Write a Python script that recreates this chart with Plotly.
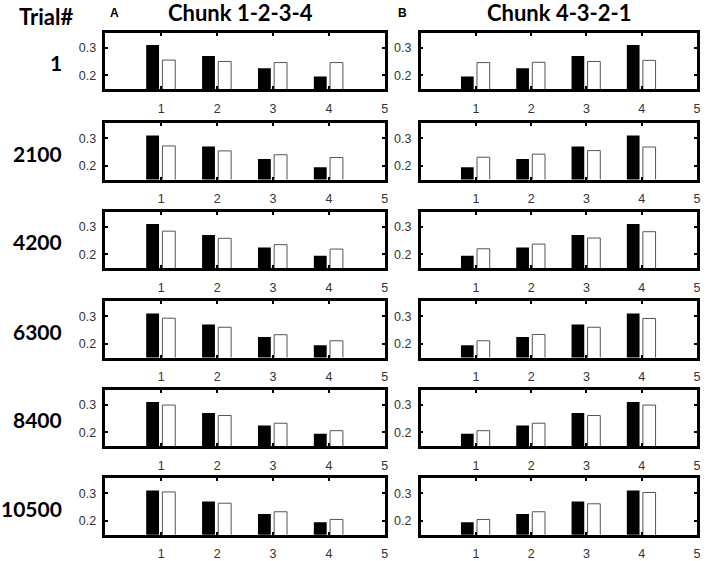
import plotly.graph_objects as go

# ---- data ----
positions = [1, 2, 3, 4]
x_tick_vals = [1, 2, 3, 4, 5]
y_tick_vals = [0.2, 0.3]
y_tick_text = ["0.2", "0.3"]
trial_labels = ["1", "2100", "4200", "6300", "8400", "10500"]
col_titles = ["Chunk 1-2-3-4", "Chunk 4-3-2-1"]
col_letters = ["A", "B"]

target_1234 = [0.31, 0.27, 0.225, 0.195]
target_4321 = [0.195, 0.225, 0.27, 0.31]

model_1234_t1 = [0.255, 0.250, 0.246, 0.246]
model_1234_t2100 = [0.272, 0.254, 0.240, 0.230]
model_1234_t4200 = [0.284, 0.258, 0.235, 0.219]
model_1234_t6300 = [0.293, 0.260, 0.233, 0.211]
model_1234_t8400 = [0.299, 0.261, 0.233, 0.206]
model_1234_t10500 = [0.305, 0.264, 0.233, 0.205]

model_4321_t1 = [0.246, 0.247, 0.250, 0.254]
model_4321_t2100 = [0.231, 0.242, 0.255, 0.268]
model_4321_t4200 = [0.220, 0.237, 0.259, 0.282]
model_4321_t6300 = [0.211, 0.234, 0.260, 0.292]
model_4321_t8400 = [0.206, 0.233, 0.261, 0.299]
model_4321_t10500 = [0.205, 0.233, 0.262, 0.303]

models_left = [model_1234_t1, model_1234_t2100, model_1234_t4200,
               model_1234_t6300, model_1234_t8400, model_1234_t10500]
models_right = [model_4321_t1, model_4321_t2100, model_4321_t4200,
                model_4321_t6300, model_4321_t8400, model_4321_t10500]

# ---- layout geometry (pixels) ----
W, H = 708, 561
col_x = [(106, 387), (423, 701)]
row_tops = [33, 124, 213, 303, 392, 481]
box_h = 56.5

fig = go.Figure()
layout = dict(
    width=W, height=H, margin=dict(l=0, r=0, t=0, b=0),
    paper_bgcolor="white", plot_bgcolor="white",
    showlegend=False, barmode="overlay",
)

tick_font = dict(family="Liberation Sans, Arial", size=12.5, color="#333333")
title_font = dict(family="Lato, Open Sans", size=22, color="black")
row_font = dict(family="Lato, Open Sans", size=21, color="black")

annotations = []
idx = 0
for r in range(6):
    for c in range(2):
        idx += 1
        xa = "x" if idx == 1 else f"x{idx}"
        ya = "y" if idx == 1 else f"y{idx}"
        target = target_1234 if c == 0 else target_4321
        model = models_left[r] if c == 0 else models_right[r]
        fig.add_trace(go.Bar(x=positions, y=target, xaxis=xa, yaxis=ya,
                             offset=-0.27, width=0.23,
                             marker=dict(color="black", line=dict(width=0))))
        fig.add_trace(go.Bar(x=positions, y=model, xaxis=xa, yaxis=ya,
                             offset=0.02, width=0.23,
                             marker=dict(color="white", line=dict(color="#555555", width=1))))
        x0, x1 = col_x[c]
        top = row_tops[r]
        bot = top + box_h
        layout["xaxis" if idx == 1 else f"xaxis{idx}"] = dict(
            domain=[x0 / W, x1 / W], anchor=ya, range=[0, 5],
            tickvals=x_tick_vals, ticktext=[str(v) for v in x_tick_vals],
            ticks="inside", ticklen=3, tickwidth=2, tickcolor="black",
            showline=True, linecolor="black", linewidth=2.5, mirror="ticks",
            showgrid=False, zeroline=False, ticklabelstandoff=6,
            ticklabeloverflow="allow", tickfont=tick_font,
        )
        layout["yaxis" if idx == 1 else f"yaxis{idx}"] = dict(
            domain=[1 - bot / H, 1 - top / H], anchor=xa, range=[0.15, 0.354],
            tickvals=y_tick_vals, ticktext=y_tick_text,
            ticks="inside", ticklen=3, tickwidth=2, tickcolor="black",
            showline=True, linecolor="black", linewidth=2.5, mirror="ticks",
            showgrid=False, zeroline=False, ticklabelstandoff=4,
            ticklabeloverflow="allow", tickfont=tick_font,
        )

    # row label
    top = row_tops[r]
    annotations.append(dict(
        text=f"<b>{trial_labels[r]}</b>", x=64 / W, y=1 - (top + box_h / 2 + 2) / H,
        xref="paper", yref="paper", xanchor="right", yanchor="middle", showarrow=False,
        font=row_font,
    ))

annotations.append(dict(
    text="<b>Trial#</b>", x=17 / W, y=1 - 17 / H, xref="paper", yref="paper",
    xanchor="left", yanchor="middle", showarrow=False, font=title_font,
))
for c, (cx, lx) in enumerate([(242, 115), (563, 405)]):
    annotations.append(dict(
        text=f"<b>{col_titles[c]}</b>", x=cx / W, y=1 - 13 / H, xref="paper", yref="paper",
        xanchor="center", yanchor="middle", showarrow=False, font=title_font,
    ))
    annotations.append(dict(
        text=f"<b>{col_letters[c]}</b>", x=lx / W, y=1 - 13 / H, xref="paper", yref="paper",
        xanchor="center", yanchor="middle", showarrow=False,
        font=dict(family="Liberation Sans, Arial", size=12, color="black"),
    ))

layout["annotations"] = annotations
fig.update_layout(**layout)
fig.write_html("out.html", config={"displayModeBar": False},
               post_script="document.body.style.margin='0';document.body.style.overflow='hidden';")
